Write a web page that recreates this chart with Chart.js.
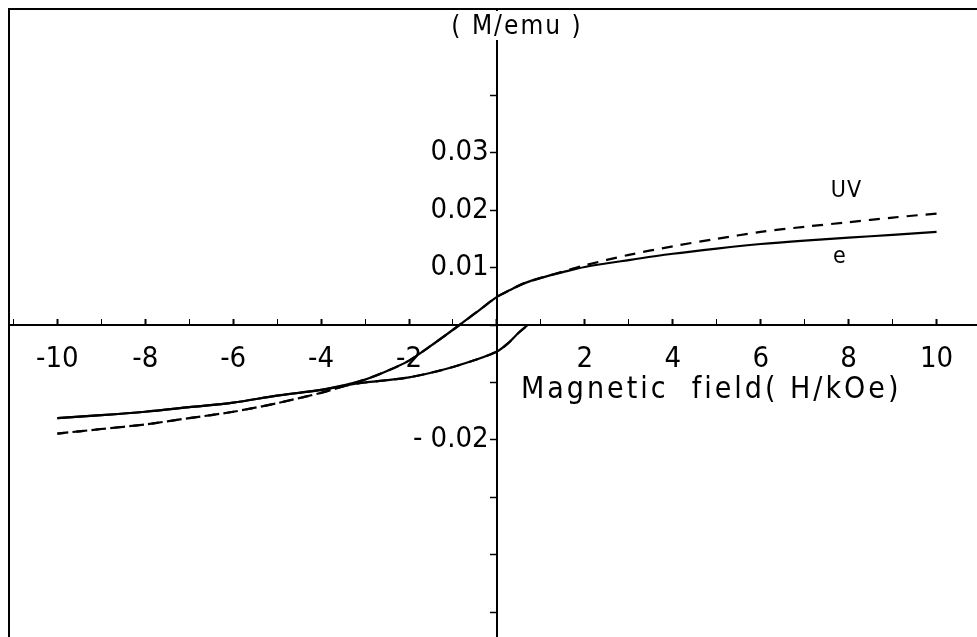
<!DOCTYPE html>
<html>
<head>
<meta charset="utf-8">
<script src="https://cdn.jsdelivr.net/npm/chart.js@4"></script>
<style>
  body { margin: 0; background: #fff; }
  #wrap { width: 977px; height: 637px; }
</style>
</head>
<body>
<div id="wrap"><canvas id="myChart"></canvas></div>
<script>
const ctx = document.getElementById("myChart");

// descending branch, +10 -> -10 kOe
const fieldDown = [10, 9, 8, 7, 6, 5, 4, 3, 2, 1.5, 1, 0.6, 0.3, 0, -0.4, -0.8, -1.5, -2, -2.5, -3, -3.5, -4, -5, -6, -7, -8, -9, -10];
const eDown = [0.0162, 0.0157, 0.0152, 0.0147, 0.0141, 0.0133, 0.0124, 0.0113, 0.0101, 0.0092, 0.0082, 0.0072, 0.0061, 0.0049, 0.0026, 0.0003, -0.0036, -0.0062, -0.008, -0.0095, -0.0105, -0.0113, -0.0123, -0.0135, -0.0143, -0.0151, -0.0157, -0.0162];
const uvDown = [0.0194, 0.0187, 0.0179, 0.0171, 0.0162, 0.015, 0.0137, 0.0122, 0.0104, 0.0093, 0.0082, 0.0072, 0.0061, 0.0049, 0.0026, 0.0003, -0.0036, -0.0062, -0.008, -0.0095, -0.0107, -0.0118, -0.0136, -0.0151, -0.0162, -0.0173, -0.0181, -0.0189];

// ascending branch, -10 -> +0.7 kOe
const fieldUp = [-10, -9, -8, -7, -6, -5, -4, -3.5, -3, -2.5, -2, -1.5, -1, -0.5, 0, 0.25, 0.5, 0.7];
const eUp = [-0.0162, -0.0157, -0.0151, -0.0143, -0.0135, -0.0123, -0.0113, -0.0106, -0.01, -0.0096, -0.0091, -0.0083, -0.0073, -0.0061, -0.0046, -0.0032, -0.0013, 0];
const uvUp = [-0.0189, -0.0181, -0.0173, -0.0162, -0.0151, -0.0136, -0.0118, -0.0107, -0.01, -0.0096, -0.0091, -0.0083, -0.0073, -0.0061, -0.0046, -0.0032, -0.0013, 0];

const yLabels = { 1: "0.01 ", 2: "0.02 ", 3: "0.03 ", "-2": "- 0.02 " };

const FONT = "'Liberation Sans Narrow', 'DejaVu Sans Condensed', 'Liberation Sans', sans-serif";

function branch(fields, moments) {
  return fields.map((h, i) => ({ x: h, y: moments[i] }));
}

// the axes sit inside the plot, so they must not take space from it
function noRoom(scale) {
  if (scale.isHorizontal()) scale.height = 0;
  else scale.width = 0;
  scale.paddingLeft = scale.paddingRight = scale.paddingTop = scale.paddingBottom = 0;
}

const textPlugin = {
  id: "plotText",
  afterDraw(chart) {
    const c = chart.ctx;
    const { x, y } = chart.scales;
    const area = chart.chartArea;
    const x0 = x.getPixelForValue(0);
    const y0 = y.getPixelForValue(0);
    c.save();
    // frame on top and left
    c.strokeStyle = "#000";
    c.lineWidth = 2;
    c.beginPath();
    c.moveTo(area.left, area.bottom);
    c.lineTo(area.left, area.top);
    c.lineTo(area.right, area.top);
    c.stroke();

    // axis title at the top of the vertical axis
    c.fillStyle = "#fff";
    c.fillRect(x0 - 8, area.top + 2, 16, 40 - area.top - 2);
    c.fillStyle = "#000";
    c.font = "26px " + FONT;
    c.letterSpacing = "2px";
    c.textAlign = "center";
    c.textBaseline = "alphabetic";
    c.fillText("( M/emu )", x0 + 20, 34);

    c.font = "30px " + FONT;
    c.letterSpacing = "3px";
    c.textAlign = "left";
    c.fillText("Magnetic  field( H/kOe)", x0 + 24, y0 + 73);

    c.font = "23px " + FONT;
    c.letterSpacing = "1px";
    c.textAlign = "center";
    c.textBaseline = "middle";
    c.fillText("UV", x.getPixelForValue(7.95), y.getPixelForValue(0.0233));
    c.fillText("e", x.getPixelForValue(7.8), y.getPixelForValue(0.0118));
    c.restore();
  },
};

const solid = { showLine: true, borderColor: "#000", borderWidth: 2.2, pointRadius: 0, tension: 0.3 };
const dashed = { ...solid, borderDash: [11, 8] };

new Chart(ctx, {
  type: "scatter",
  data: {
    datasets: [
      { label: "e", data: branch(fieldDown, eDown), ...solid },
      { label: "e", data: branch(fieldUp, eUp), ...solid },
      { label: "UV", data: branch(fieldDown, uvDown), ...dashed },
      { label: "UV", data: branch(fieldUp, uvUp), ...dashed },
    ],
  },
  options: {
    responsive: true,
    maintainAspectRatio: false,
    animation: false,
    layout: { padding: { left: 9, top: 9, right: 0, bottom: 0 } },
    plugins: {
      legend: { display: false },
      tooltip: { enabled: false },
    },
    scales: {
      x: {
        type: "linear",
        position: { y: 0 },
        min: -11.1,
        max: 10.92,
        afterFit: noRoom,
        border: { color: "#000", width: 2 },
        grid: {
          drawOnChartArea: false,
          tickLength: -7,
          tickColor: "#000",
          tickWidth: (c) => (c.tick && c.tick.value % 2 === 0 ? 2 : 1),
        },
        ticks: {
          stepSize: 1,
          includeBounds: false,
          autoSkip: false,
          maxRotation: 0,
          padding: 24,
          color: "#000",
          font: { family: FONT, size: 29 },
          callback: (v) => (v % 2 === 0 && v !== 0 ? String(v) : ""),
        },
      },
      y: {
        type: "linear",
        position: { x: 0 },
        min: -0.0543,
        max: 0.055,
        afterFit: noRoom,
        border: { color: "#000", width: 2 },
        grid: {
          drawOnChartArea: false,
          tickLength: 6,
          tickColor: "#000",
          tickWidth: 1.5,
        },
        ticks: {
          stepSize: 0.01,
          includeBounds: false,
          autoSkip: false,
          color: "#000",
          font: { family: FONT, size: 29 },
          callback: (v) => yLabels[Math.round(v * 100)] || "",
        },
      },
    },
  },
  plugins: [textPlugin],
});
</script>
</body>
</html>
